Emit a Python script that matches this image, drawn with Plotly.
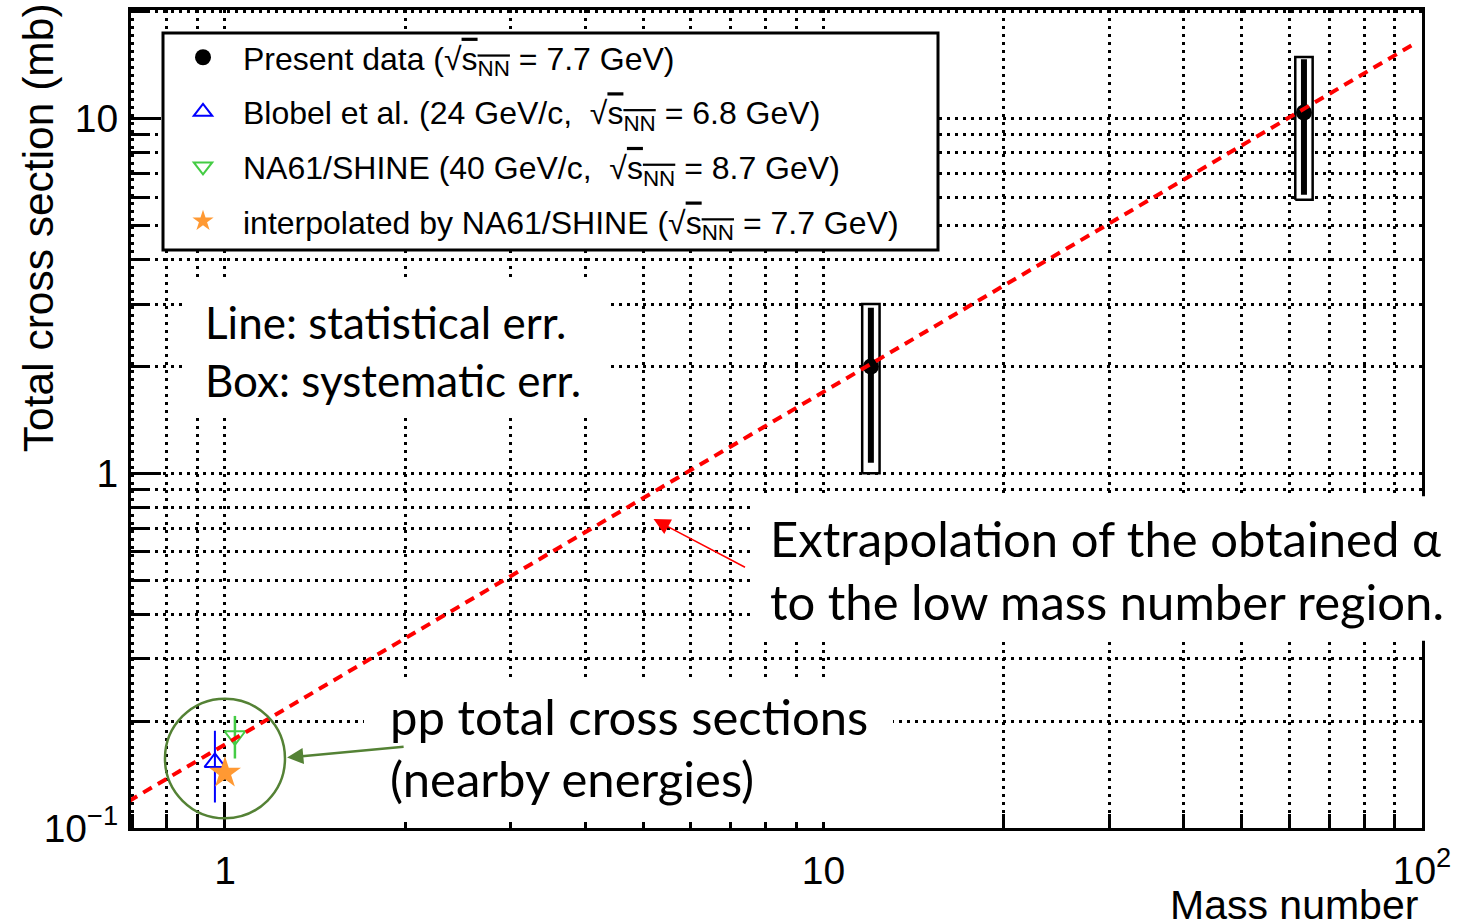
import math
import plotly.graph_objects as go

# ---------------- data ----------------
# Present measurement (C and Cu targets)
present_A = [12.0, 63.5]
present_sigma = [2.0, 10.4]
present_stat = [0.93, 4.3]
present_sys = [1.0, 4.5]

# pp reference points (plotted slightly offset around A = 1)
blobel_A = [0.962]
blobel_sigma = [0.153]
blobel_err = [0.035]

na61_A = [1.039]
na61_sigma = [0.182]
na61_err = [0.025]

interp_A = [1.0]
interp_sigma = [0.143]

# power-law fit sigma = sigma0 * A^alpha and the A range it is drawn over
fit_alpha = 0.994
fit_sigma0 = 0.172
fit_A_range = [0.69, 96.0]

# axis ticks
x_major = [1, 10, 100]
x_major_text = ["1", "10", "10<sup>2</sup>"]
y_major = [0.1, 1, 10]
y_major_text = ["10<sup>\u22121</sup>", "1", "10"]
x_minor = [0.7, 0.8, 0.9] + [float(v) for v in range(2, 10)] + [float(v) for v in range(20, 100, 10)]
y_minor = [v / 10 for v in range(2, 10)] + [float(v) for v in range(2, 10)] + [20.0]

# ---------------- figure geometry ----------------
W, H = 1473, 924
ML, MR, MT, MB = 131, 51, 7, 96
PW, PH = W - ML - MR, H - MT - MB
X_RANGE = [math.log10(0.6966), 2.0]
Y_RANGE = [-1.0, 1.306]


def px(x):
    return (x - ML) / PW


def py(y):
    return (H - MB - y) / PH


def data_to_paper(a, s):
    lx = (math.log10(a) - X_RANGE[0]) / (X_RANGE[1] - X_RANGE[0])
    ly = (math.log10(s) - Y_RANGE[0]) / (Y_RANGE[1] - Y_RANGE[0])
    return lx, ly


SANS = "Liberation Sans, Arial, sans-serif"
CAL = "Lato, Carlito, Calibri, sans-serif"
GRID = dict(color="black", width=2.5, dash="3px,5px")
GREEN_DARK = "#548235"

fig = go.Figure()

# systematic-error boxes (white filled, black outline)
box_half = 1.034
for a, s, e in zip(present_A, present_sigma, present_sys):
    fig.add_trace(go.Scatter(
        x=[a / box_half, a * box_half, a * box_half, a / box_half, a / box_half],
        y=[s - e, s - e, s + e, s + e, s - e],
        mode="lines", fill="toself", fillcolor="white",
        line=dict(color="black", width=2.5),
        showlegend=False, hoverinfo="skip"))

sq = '\u221a<span style="text-decoration:overline">s<sub>NN</sub></span>'

fig.add_trace(go.Scatter(
    x=present_A, y=present_sigma, mode="markers",
    marker=dict(symbol="circle", size=16, color="black"),
    error_y=dict(type="data", array=present_stat, thickness=6, width=0, color="black"),
    name=f"Present data ({sq} = 7.7 GeV)", legendgroup="g1", legendrank=1))

fig.add_trace(go.Scatter(
    x=blobel_A, y=blobel_sigma, mode="markers",
    marker=dict(symbol="triangle-up-open", size=18, color="blue", line=dict(width=2)),
    error_y=dict(type="data", array=blobel_err, thickness=2, width=0, color="blue"),
    name=f"Blobel et al. (24 GeV/c,  {sq} = 6.8 GeV)", legendgroup="g2", legendrank=2))

fig.add_trace(go.Scatter(
    x=na61_A, y=na61_sigma, mode="markers",
    marker=dict(symbol="triangle-down-open", size=18, color="#44cc44", line=dict(width=2)),
    error_y=dict(type="data", array=na61_err, thickness=2.5, width=0, color="#44cc44"),
    name=f"NA61/SHINE (40 GeV/c,  {sq} = 8.7 GeV)", legendgroup="g3", legendrank=3))

fig.add_trace(go.Scatter(
    x=interp_A, y=interp_sigma, mode="markers",
    marker=dict(symbol="star", size=24, color="#ff9933", line=dict(width=0)),
    name=f"interpolated by NA61/SHINE ({sq} = 7.7 GeV)", legendgroup="g4", legendrank=4))

# extrapolated power law
fit_y = [fit_sigma0 * a ** fit_alpha for a in fit_A_range]
fig.add_trace(go.Scatter(
    x=fit_A_range, y=fit_y, mode="lines",
    line=dict(color="red", width=4, dash="10px,7px"),
    showlegend=False, hoverinfo="skip"))

axis_common = dict(
    type="log", showline=True, linecolor="black", linewidth=3, mirror=True,
    ticks="inside", tickcolor="black", tickwidth=2.5,
    tickfont=dict(family=SANS, size=39, color="black"),
    showgrid=True, gridcolor=GRID["color"], gridwidth=GRID["width"], griddash=GRID["dash"],
    zeroline=False,
)

fig.update_xaxes(
    **axis_common, range=X_RANGE,
    tickvals=x_major, ticktext=x_major_text, ticklen=24, ticklabelstandoff=6,
    minor=dict(tickvals=x_minor, ticks="inside", ticklen=14, tickwidth=2.5, tickcolor="black",
               showgrid=True, gridcolor=GRID["color"], gridwidth=GRID["width"], griddash=GRID["dash"]))
fig.update_yaxes(
    **axis_common, range=Y_RANGE,
    tickvals=y_major, ticktext=y_major_text, ticklen=30, ticklabelstandoff=2,
    minor=dict(tickvals=y_minor, ticks="inside", ticklen=17, tickwidth=2.5, tickcolor="black",
               showgrid=True, gridcolor=GRID["color"], gridwidth=GRID["width"], griddash=GRID["dash"]))

shapes = []
# legend frame
shapes.append(dict(type="rect", xref="paper", yref="paper", layer="above",
                   x0=px(163), x1=px(938), y0=py(248), y1=py(30),
                   fillcolor="white", line=dict(color="black", width=3)))
# white panels behind the explanatory texts
for x0, x1, y0, y1 in [(183, 608, 280, 415), (750, 1473, 495, 640), (364, 893, 680, 822)]:
    shapes.append(dict(type="rect", xref="paper", yref="paper", layer="above",
                       x0=px(x0), x1=px(x1), y0=py(y1), y1=py(y0),
                       fillcolor="white", line=dict(width=0)))
# circle marking the pp points, centred on A = 1
cx, cy = data_to_paper(1.0, 0.157)
rx, ry = 60 / PW, 60 / PH
shapes.append(dict(type="circle", xref="paper", yref="paper", layer="above",
                   x0=cx - rx, x1=cx + rx, y0=cy - ry, y1=cy + ry,
                   line=dict(color=GREEN_DARK, width=2.5)))

annotations = []


def note(text, x, y, size, family=CAL, **kw):
    d = dict(text=text, xref="paper", yref="paper", x=px(x), y=py(y),
             xanchor="left", yanchor="middle", showarrow=False,
             font=dict(family=family, size=size, color="black"))
    d.update(kw)
    annotations.append(d)


note("Line: statistical err.", 203, 320, 44)
note("Box: systematic err.", 203, 378, 44)
note("Extrapolation of the obtained \u03b1", 768, 537, 49)
note("to the low mass number region.", 768, 600, 49)
note("pp total cross sections", 388, 716, 49)
note("(nearby energies)", 388, 778, 49)

# axis titles
note("Total cross section (mb)", 38, 226, 42.5, family=SANS, textangle=-90, xanchor="center")
note("Mass number", 1420, 905, 41, family=SANS, xanchor="right")

# pointer arrows
annotations.append(dict(text="", xref="x", yref="y", x=math.log10(5.2), y=math.log10(0.743),
                        showarrow=True, ax=93, ay=49, arrowcolor="red", arrowwidth=1.5,
                        arrowhead=2, arrowsize=2.2, standoff=0))
annotations.append(dict(text="", xref="x", yref="y", x=math.log10(1.27), y=math.log10(0.158),
                        showarrow=True, ax=118, ay=-11, arrowcolor=GREEN_DARK, arrowwidth=2.5,
                        arrowhead=2, arrowsize=1.3, standoff=0))

fig.update_layout(
    width=W, height=H, autosize=False,
    margin=dict(l=ML, r=MR, t=MT, b=MB),
    paper_bgcolor="white", plot_bgcolor="white",
    shapes=shapes, annotations=annotations,
    legend=dict(x=px(163), y=py(27), xanchor="left", yanchor="top",
                bgcolor="rgba(0,0,0,0)", borderwidth=0,
                font=dict(family=SANS, size=32, color="black"),
                itemwidth=70, tracegroupgap=10, traceorder="grouped"),
    showlegend=True,
)

fig.write_html("out.html")
